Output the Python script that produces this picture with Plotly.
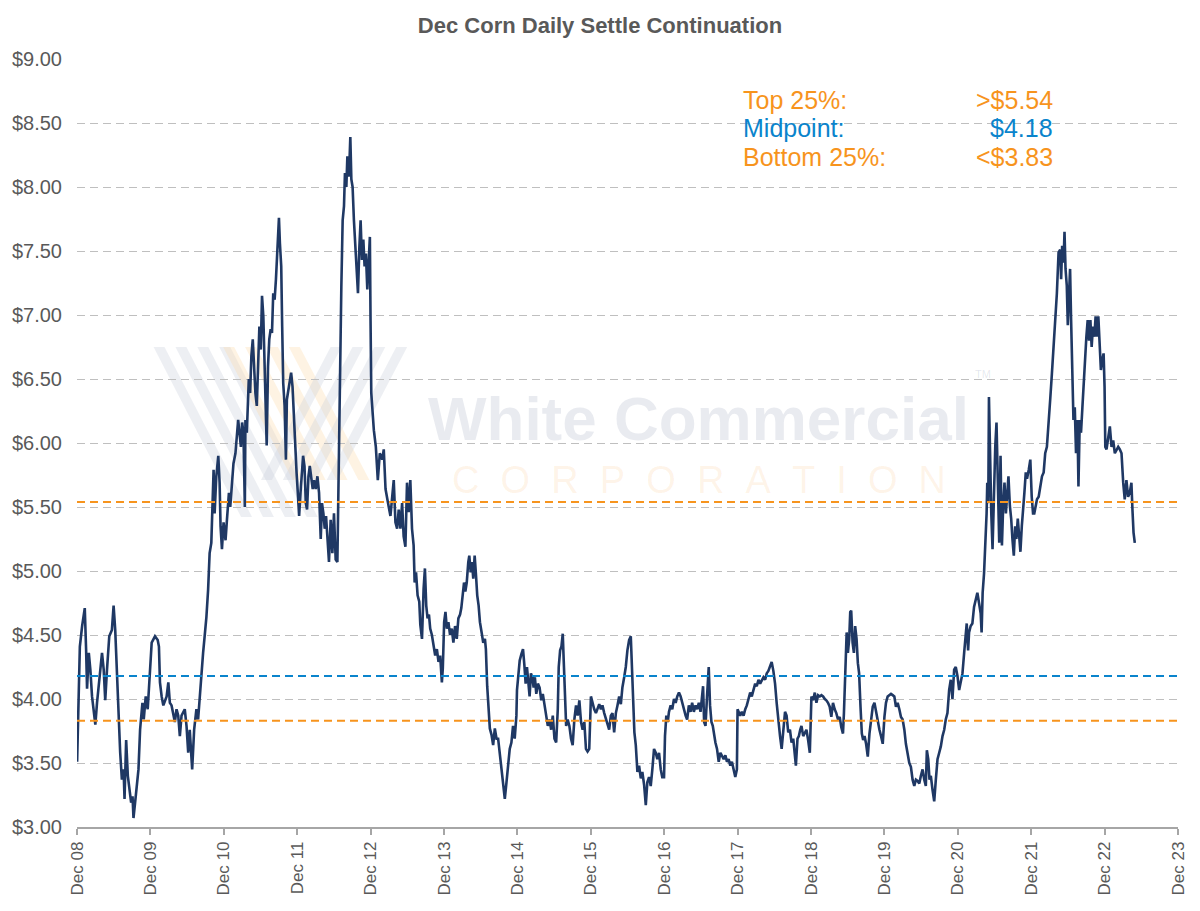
import pandas as pd
import plotly.graph_objects as go

# ---------------- data ----------------
# time as decimal years, settle price in $/bu
t_years = [
2008.917,2008.931,2008.940,2008.954,2008.985,2009.021,2009.039,2009.052,2009.076,2009.097,
2009.120,2009.143,2009.165,2009.188,2009.233,2009.256,2009.279,2009.300,2009.324,2009.355,
2009.391,2009.414,2009.436,2009.459,2009.482,2009.504,2009.527,2009.550,2009.563,2009.585,
2009.608,2009.631,2009.653,2009.672,2009.685,2009.707,2009.753,2009.775,2009.807,2009.825,
2009.852,2009.879,2009.910,2009.933,2009.978,2010.015,2010.032,2010.046,2010.069,2010.092,
2010.137,2010.160,2010.181,2010.204,2010.249,2010.272,2010.295,2010.317,2010.340,2010.384,
2010.408,2010.431,2010.452,2010.485,2010.512,2010.543,2010.566,2010.588,2010.611,2010.634,
2010.655,2010.679,2010.702,2010.710,2010.723,2010.746,2010.760,2010.777,2010.791,2010.814,
2010.841,2010.859,2010.872,2010.891,2010.913,2010.940,2010.959,2010.986,2011.004,2011.031,
2011.048,2011.075,2011.094,2011.112,2011.130,2011.149,2011.166,2011.184,2011.203,2011.211,
2011.230,2011.244,2011.257,2011.275,2011.292,2011.311,2011.329,2011.347,2011.366,2011.383,
2011.401,2011.420,2011.437,2011.455,2011.474,2011.492,2011.501,2011.519,2011.536,2011.555,
2011.573,2011.590,2011.609,2011.627,2011.641,2011.654,2011.668,2011.681,2011.699,2011.712,
2011.726,2011.745,2011.763,2011.776,2011.799,2011.817,2011.834,2011.853,2011.871,2011.889,
2011.908,2011.925,2011.943,2011.962,2011.979,2011.997,2012.016,2012.034,2012.051,2012.070,
2012.088,2012.101,2012.128,2012.146,2012.169,2012.192,2012.214,2012.237,2012.254,2012.273,
2012.291,2012.309,2012.328,2012.349,2012.372,2012.395,2012.417,2012.440,2012.463,2012.481,
2012.498,2012.517,2012.535,2012.553,2012.566,2012.585,2012.599,2012.616,2012.630,2012.639,
2012.653,2012.670,2012.688,2012.707,2012.725,2012.743,2012.762,2012.779,2012.797,2012.816,
2012.833,2012.851,2012.870,2012.887,2012.905,2012.914,2012.924,2012.959,2012.986,2013.013,
2013.040,2013.073,2013.094,2013.118,2013.141,2013.162,2013.185,2013.208,2013.230,2013.253,
2013.276,2013.298,2013.321,2013.344,2013.365,2013.389,2013.411,2013.433,2013.456,2013.479,
2013.501,2013.515,2013.534,2013.555,2013.578,2013.592,2013.615,2013.637,2013.655,2013.673,
2013.691,2013.710,2013.727,2013.750,2013.772,2013.795,2013.818,2013.840,2013.863,2013.886,
2013.899,2013.917,2013.935,2013.954,2013.975,2013.998,2014.021,2014.043,2014.066,2014.089,
2014.111,2014.134,2014.151,2014.170,2014.188,2014.206,2014.225,2014.246,2014.260,2014.279,
2014.296,2014.314,2014.333,2014.351,2014.368,2014.387,2014.405,2014.428,2014.450,2014.473,
2014.486,2014.504,2014.523,2014.540,2014.563,2014.585,2014.608,2014.631,2014.653,2014.676,
2014.699,2014.720,2014.744,2014.767,2014.788,2014.811,2014.834,2014.856,2014.879,2014.902,
2014.910,2014.929,2014.947,2014.970,2014.992,2015.010,2015.028,2015.046,2015.065,2015.082,
2015.100,2015.119,2015.137,2015.154,2015.173,2015.195,2015.218,2015.241,2015.262,2015.286,
2015.309,2015.330,2015.353,2015.376,2015.398,2015.421,2015.444,2015.466,2015.479,2015.498,
2015.516,2015.534,2015.547,2015.561,2015.580,2015.601,2015.624,2015.647,2015.669,2015.692,
2015.715,2015.737,2015.760,2015.783,2015.805,2015.828,2015.850,2015.872,2015.895,2015.918,
2015.940,2015.963,2015.986,2016.008,2016.031,2016.054,2016.075,2016.099,2016.122,2016.143,
2016.166,2016.189,2016.211,2016.234,2016.257,2016.279,2016.302,2016.325,2016.346,2016.370,
2016.392,2016.414,2016.437,2016.460,2016.474,2016.492,2016.509,2016.528,2016.550,2016.573,
2016.596,2016.617,2016.641,2016.664,2016.685,2016.708,2016.731,2016.753,2016.776,2016.799,
2016.821,2016.844,2016.867,2016.888,2016.912,2016.925,2016.943,2016.962,2016.979,2017.002,
2017.024,2017.047,2017.070,2017.092,2017.115,2017.138,2017.159,2017.183,2017.206,2017.227,
2017.250,2017.273,2017.295,2017.318,2017.341,2017.363,2017.386,2017.409,2017.430,2017.444,
2017.458,2017.477,2017.498,2017.521,2017.539,2017.558,2017.576,2017.593,2017.612,2017.634,
2017.657,2017.680,2017.701,2017.725,2017.748,2017.769,2017.792,2017.815,2017.837,2017.860,
2017.883,2017.905,2017.914,2017.928,2017.950,2017.972,2017.996,2018.019,2018.040,2018.063,
2018.086,2018.108,2018.131,2018.154,2018.176,2018.199,2018.222,2018.244,2018.267,2018.290,
2018.311,2018.334,2018.357,2018.379,2018.402,2018.425,2018.447,2018.470,2018.493,2018.515,
2018.538,2018.561,2018.582,2018.605,2018.628,2018.650,2018.673,2018.696,2018.709,2018.731,
2018.750,2018.768,2018.785,2018.809,2018.831,2018.853,2018.876,2018.899,2018.921,2018.944,
2018.967,2018.989,2019.012,2019.035,2019.057,2019.080,2019.103,2019.124,2019.147,2019.170,
2019.192,2019.215,2019.238,2019.260,2019.283,2019.306,2019.328,2019.351,2019.364,2019.382,
2019.401,2019.418,2019.436,2019.450,2019.463,2019.482,2019.500,2019.517,2019.536,2019.554,
2019.571,2019.590,2019.608,2019.626,2019.645,2019.666,2019.689,2019.712,2019.734,2019.757,
2019.780,2019.802,2019.825,2019.848,2019.870,2019.893,2019.916,2019.937,2019.960,2019.983,
2020.005,2020.028,2020.051,2020.073,2020.096,2020.119,2020.141,2020.164,2020.187,2020.208,
2020.231,2020.254,2020.276,2020.299,2020.322,2020.344,2020.367,2020.390,2020.412,2020.435,
2020.458,2020.479,2020.493,2020.512,2020.529,2020.547,2020.570,2020.593,2020.615,2020.638,
2020.661,2020.683,2020.706,2020.729,2020.750,2020.773,2020.796,2020.818,2020.841,2020.864,
2020.886,2020.909,2020.932,2020.953,2020.977,2021.000,2021.021,2021.035,2021.054,2021.067,
2021.089,2021.112,2021.135,2021.157,2021.180,2021.203,2021.225,2021.238,2021.252,2021.271,
2021.292,2021.306,2021.315,2021.329,2021.338,2021.352,2021.370,2021.387,2021.406,2021.424,
2021.441,2021.460,2021.478,2021.496,2021.515,2021.532,2021.550,2021.569,2021.586,2021.604,
2021.623,2021.641,2021.658,2021.677,2021.695,2021.712,2021.731,2021.749,2021.767,2021.786,
2021.803,2021.821,2021.840,2021.857,2021.880,2021.902,2021.921,2021.939,2021.956,2021.975,
2021.993,2022.016,2022.037,2022.061,2022.084,2022.105,2022.128,2022.151,2022.173,2022.196,
2022.219,2022.241,2022.264,2022.287,2022.309,2022.322,2022.336,2022.355,2022.368,2022.382,
2022.399,2022.413,2022.431,2022.444,2022.458,2022.471,2022.490,2022.508,2022.525,2022.544,
2022.558,2022.576,2022.593,2022.612,2022.630,2022.647,2022.666,2022.684,2022.702,2022.721,
2022.738,2022.756,2022.775,2022.792,2022.810,2022.829,2022.847,2022.864,2022.883,2022.901,
2022.914,2022.924,2022.941,2022.964,2022.986,2023.009,2023.032,2023.054,2023.077,2023.100,
2023.122,2023.145,2023.168,2023.189,2023.212,2023.235,2023.257,2023.280,2023.294,2023.309,
2023.326,
]

settle = [
3.51,3.97,4.23,4.41,4.57,4.71,4.39,4.08,4.36,4.23,
4.02,3.89,3.80,3.97,4.23,4.36,4.23,3.99,4.23,4.49,
4.54,4.73,4.54,4.23,3.84,3.58,3.37,3.45,3.22,3.68,
3.40,3.30,3.19,3.24,3.07,3.19,3.45,3.76,3.97,3.84,
4.02,3.92,4.23,4.44,4.49,4.46,4.41,4.13,4.02,3.95,
4.02,4.13,3.97,3.95,3.82,3.92,3.87,3.71,3.87,3.92,
3.79,3.58,3.76,3.45,3.76,3.92,3.84,4.02,4.23,4.36,
4.49,4.64,4.85,4.96,5.14,5.22,5.56,5.79,5.45,5.74,
5.90,5.69,5.35,5.17,5.38,5.24,5.40,5.61,5.50,5.74,
5.84,5.92,6.05,6.18,6.08,5.97,6.16,6.08,5.50,6.18,
6.08,6.34,6.50,6.39,6.68,6.81,6.60,6.39,6.29,6.70,
6.91,6.73,7.15,6.99,6.55,6.29,5.98,6.60,6.81,6.89,
6.86,7.17,7.12,7.28,7.49,7.67,7.76,7.56,7.38,6.91,
6.47,6.29,5.87,6.34,6.44,6.50,6.55,6.44,6.18,6.03,
5.77,5.61,5.43,5.61,5.74,5.90,5.82,5.53,5.48,5.74,
5.82,5.77,5.64,5.71,5.64,5.74,5.61,5.25,5.53,5.45,
5.33,5.43,5.25,5.07,5.40,5.14,5.45,5.09,5.07,5.92,
6.70,7.22,7.74,7.85,8.11,8.00,8.24,8.08,8.24,8.39,
8.06,8.00,7.74,7.53,7.43,7.17,7.53,7.74,7.43,7.59,
7.38,7.48,7.20,7.43,7.61,6.96,6.39,6.10,5.97,5.71,
5.92,5.87,5.95,5.64,5.58,5.50,5.43,5.58,5.71,5.38,
5.33,5.48,5.33,5.53,5.27,5.19,5.69,5.46,5.71,5.33,
5.20,4.91,4.99,4.81,4.76,4.58,4.47,4.86,5.02,4.73,
4.63,4.66,4.55,4.50,4.42,4.34,4.39,4.29,4.34,4.13,
4.24,4.60,4.68,4.55,4.60,4.50,4.55,4.44,4.57,4.47,
4.63,4.66,4.71,4.81,4.91,4.84,4.91,5.07,5.12,4.99,
5.07,4.94,5.12,4.97,4.81,4.73,4.60,4.52,4.44,4.47,
4.39,4.10,3.87,3.77,3.72,3.64,3.77,3.69,3.69,3.56,
3.45,3.35,3.22,3.35,3.51,3.61,3.66,3.79,3.69,3.87,
4.07,4.20,4.30,4.35,4.39,4.27,4.12,4.25,4.14,4.02,
4.20,4.17,4.09,4.17,4.04,4.12,4.09,3.99,4.04,3.96,
3.89,3.79,3.84,3.76,3.87,3.69,3.66,3.92,4.25,4.38,
4.41,4.51,4.30,3.99,3.79,3.84,3.79,3.69,3.64,3.84,
3.95,3.87,3.99,3.82,3.76,3.82,3.61,3.59,3.61,4.02,
3.96,3.92,3.89,3.92,3.96,3.92,3.95,3.89,3.84,3.79,
3.76,3.87,3.89,3.74,3.89,3.95,4.02,3.96,4.09,4.17,
4.25,4.38,4.46,4.49,4.25,3.95,3.74,3.64,3.43,3.48,
3.38,3.43,3.33,3.17,3.35,3.39,3.32,3.45,3.61,3.58,
3.53,3.58,3.45,3.39,3.39,3.71,3.87,3.82,3.90,3.95,
3.92,4.00,3.97,4.02,4.05,4.02,3.97,3.92,3.87,3.84,
3.95,3.90,3.97,3.90,3.95,3.92,3.97,3.90,4.07,4.10,
3.82,3.79,4.02,4.25,3.95,3.82,3.79,3.71,3.66,3.61,
3.51,3.58,3.56,3.53,3.56,3.51,3.53,3.48,3.51,3.45,
3.39,3.45,3.92,3.90,3.87,3.90,3.87,3.92,3.95,4.00,
4.05,4.02,4.07,4.12,4.10,4.15,4.12,4.15,4.17,4.15,
4.20,4.22,4.25,4.29,4.22,4.12,3.97,3.82,3.71,3.61,
3.74,3.90,3.87,3.74,3.76,3.66,3.69,3.58,3.48,3.69,
3.71,3.76,3.79,3.71,3.74,3.76,3.68,3.58,4.02,3.99,
4.05,3.97,4.03,4.02,4.03,4.02,4.00,3.99,3.97,3.94,
3.86,3.97,3.92,3.89,3.84,3.86,3.78,3.73,3.89,4.20,
4.52,4.36,4.47,4.68,4.69,4.44,4.36,4.57,4.47,4.28,
4.20,3.94,3.73,3.68,3.71,3.65,3.55,3.73,3.84,3.94,
3.97,3.89,3.84,3.76,3.71,3.65,3.86,3.97,4.02,4.03,
4.04,4.03,4.02,3.94,3.97,3.92,3.86,3.84,3.76,3.65,
3.58,3.50,3.47,3.37,3.32,3.37,3.36,3.34,3.40,3.45,
3.37,3.32,3.60,3.53,3.37,3.40,3.29,3.20,3.37,3.53,
3.58,3.63,3.71,3.76,3.84,3.89,4.07,4.15,4.00,4.23,
4.25,4.18,4.07,4.13,4.20,4.36,4.52,4.59,4.38,4.52,
4.57,4.59,4.72,4.78,4.83,4.75,4.67,4.52,4.83,4.98,
5.22,5.45,5.69,5.53,6.36,5.84,5.45,5.17,5.72,5.97,
6.16,5.72,5.22,5.90,5.20,5.51,5.69,5.45,5.64,5.74,
5.51,5.41,5.25,5.12,5.35,5.25,5.41,5.30,5.15,5.35,
5.45,5.61,5.77,5.72,5.79,5.87,5.58,5.45,5.45,5.50,
5.56,5.58,5.66,5.74,5.77,5.92,5.97,6.13,6.34,6.54,
6.75,6.96,7.17,7.49,7.51,7.28,7.54,7.41,7.65,7.36,
7.23,6.92,7.18,7.36,6.96,6.57,6.18,6.28,5.92,6.18,
5.66,6.18,6.08,6.28,6.49,6.70,6.83,6.96,6.80,6.96,
6.75,6.91,6.83,6.99,6.83,6.99,6.70,6.57,6.65,6.70,
6.44,5.97,5.95,6.05,6.13,5.97,6.02,5.92,5.95,5.97,
5.95,5.92,5.69,5.56,5.71,5.58,5.61,5.69,5.48,5.30,
5.22,
]

# quartile / midpoint reference levels
level_names = ["Top 25%:", "Midpoint:", "Bottom 25%:"]
level_values = [5.54, 4.18, 3.83]
level_prefix = [">", "", "<"]
level_colors = ["#F7941D", "#0A84CC", "#F7941D"]

# axis ticks
y_ticks = [3.0, 3.5, 4.0, 4.5, 5.0, 5.5, 6.0, 6.5, 7.0, 7.5, 8.0, 8.5, 9.0]
x_tick_years = list(range(2008, 2024))


def dec_year_to_ts(v):
    y = int(v)
    start = pd.Timestamp(year=y, month=1, day=1)
    end = pd.Timestamp(year=y + 1, month=1, day=1)
    return start + (end - start) * (v - y)


dates = [dec_year_to_ts(v) for v in t_years]
x_tickvals = [pd.Timestamp(year=y, month=12, day=1) for y in x_tick_years]
x_ticktext = [f"Dec {y % 100:02d}" for y in x_tick_years]

GRAY_TXT = "#595959"
FONT = "Liberation Sans, Arial, sans-serif"

fig = go.Figure()
fig.add_trace(go.Scatter(
    x=dates, y=settle, mode="lines",
    line=dict(color="#1F3864", width=2.6),
    hoverinfo="x+y", showlegend=False,
))

shapes = []
# watermark logo stripes (decorative, paper coords)
stripe_gray = "rgba(200,205,220,0.33)"
stripe_orange = "rgba(252,220,170,0.33)"


def px_x(p):
    return (p - 75) / 1107.0


def px_y(p):
    return (827 - p) / 768.0


def para(x0, x1, y_top, y_bot, dx, color):
    return dict(type="path", xref="paper", yref="paper", layer="below",
                path=f"M {x0},{y_top} L {x1},{y_top} L {x1+dx},{y_bot} L {x0+dx},{y_bot} Z",
                fillcolor=color, line=dict(width=0))


# left strokes (gray, down-right)
for i in range(4):
    x0 = 152 + i * 22
    shapes.append(para(px_x(x0), px_x(x0 + 11), px_y(347), px_y(517), px_x(x0 + 88) - px_x(x0), stripe_gray))
# middle strokes (orange, down-right)
for i in range(4):
    x0 = 222 + i * 22
    shapes.append(para(px_x(x0), px_x(x0 + 11), px_y(347), px_y(480), px_x(x0 + 70) - px_x(x0), stripe_orange))
# right strokes (gray, up-right)
for i in range(4):
    x0 = 330 + i * 22
    shapes.append(para(px_x(x0), px_x(x0 + 11), px_y(347), px_y(480), px_x(x0 - 70) - px_x(x0), stripe_gray))

# white box behind the stats text (hides gridlines)
shapes.append(dict(type="rect", xref="paper", yref="paper", layer="between",
                   x0=px_x(735), x1=px_x(1064), y0=px_y(178), y1=px_y(78),
                   fillcolor="white", line=dict(width=0)))

# reference lines
for v, c in zip(level_values, level_colors):
    shapes.append(dict(type="line", xref="paper", yref="y", x0=0, x1=1, y0=v, y1=v,
                       layer="above", line=dict(color=c, width=2, dash="8px,5px")))

annotations = []
# watermark text
annotations.append(dict(text="<b>White Commercial</b>", xref="paper", yref="paper",
                        x=px_x(700), y=px_y(418), showarrow=False,
                        font=dict(family=FONT, size=62, color="rgba(40,60,110,0.10)")))
annotations.append(dict(text="TM", xref="paper", yref="paper",
                        x=px_x(976), y=px_y(374), xanchor="left", showarrow=False,
                        font=dict(family=FONT, size=11, color="rgba(40,60,110,0.12)")))
annotations.append(dict(text="C\u00a0\u00a0O\u00a0\u00a0R\u00a0\u00a0P\u00a0\u00a0O\u00a0\u00a0R\u00a0\u00a0A\u00a0\u00a0T\u00a0\u00a0I\u00a0\u00a0O\u00a0\u00a0N",
                        xref="paper", yref="paper", x=px_x(700), y=px_y(480), showarrow=False,
                        font=dict(family=FONT, size=38, color="rgba(247,148,29,0.10)")))

# stats text
row_y = [100, 128, 157]
for name, val, pre, col, ry in zip(level_names, level_values, level_prefix, level_colors, row_y):
    annotations.append(dict(text=name, xref="paper", yref="paper", x=px_x(743), y=px_y(ry),
                            xanchor="left", yanchor="middle", showarrow=False,
                            font=dict(family=FONT, size=25, color=col)))
    annotations.append(dict(text=f"{pre}${val:.2f}", xref="paper", yref="paper", x=px_x(1058), y=px_y(ry),
                            xanchor="right", yanchor="middle", showarrow=False,
                            font=dict(family=FONT, size=25, color=col)))

fig.update_layout(
    width=1200, height=911,
    margin=dict(l=75, r=18, t=59, b=84),
    paper_bgcolor="white", plot_bgcolor="white",
    title=dict(text="<b>Dec Corn Daily Settle Continuation</b>", x=0.5, xanchor="center",
               y=1 - 25 / 911, yanchor="middle",
               font=dict(family=FONT, size=22, color=GRAY_TXT)),
    shapes=shapes, annotations=annotations,
    font=dict(family=FONT, color=GRAY_TXT),
)
fig.update_yaxes(
    range=[3, 9], tickvals=y_ticks, tickformat="$.2f",
    showgrid=True, gridcolor="#BFBFBF", gridwidth=1, griddash="8px,5px",
    showline=False, zeroline=False, ticks="",
    ticklabelstandoff=14,
    tickfont=dict(family=FONT, size=20, color=GRAY_TXT),
)
fig.update_xaxes(
    type="date",
    range=[x_tickvals[0], x_tickvals[-1]],
    tickvals=x_tickvals, ticktext=x_ticktext, tickangle=-90,
    showgrid=False, zeroline=False,
    showline=True, linecolor="#A6A6A6", linewidth=1.5,
    ticks="outside", ticklen=6, tickcolor="#A6A6A6", tickwidth=1.5,
    tickfont=dict(family=FONT, size=17, color=GRAY_TXT),
)

fig.write_html("out.html")
